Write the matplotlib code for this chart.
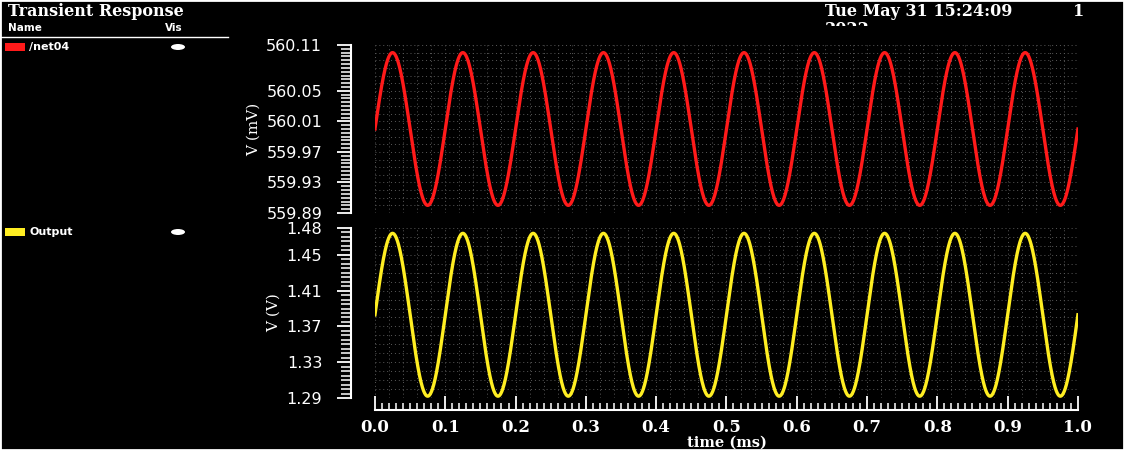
import numpy as np
import matplotlib
matplotlib.use("Agg")
import matplotlib.pyplot as plt
from matplotlib.ticker import MultipleLocator, FixedLocator
from matplotlib.patches import Rectangle, Ellipse

# signal parameters
freq_khz = 10.0
net04_dc_mv = 560.0
net04_amp_mv = 0.10
output_dc_v = 1.383
output_amp_v = 0.091

net04_ticks = [560.11, 560.05, 560.01, 559.97, 559.93, 559.89]
output_ticks = [1.48, 1.45, 1.41, 1.37, 1.33, 1.29]
x_ticks = [0.0, 0.1, 0.2, 0.3, 0.4, 0.5, 0.6, 0.7, 0.8, 0.9, 1.0]

signals = ["/net04", "Output"]
colors = ["#ff1a1a", "#ffee22"]

t = np.linspace(0, 1.0, 2001)
net04 = net04_dc_mv + net04_amp_mv * np.sin(2 * np.pi * freq_khz * t)
output = output_dc_v + output_amp_v * np.sin(2 * np.pi * freq_khz * t)

fig = plt.figure(figsize=(11.24, 4.5), dpi=100, facecolor="black")
grid_style = dict(color="#5a5a5a", linestyle=(0, (1, 3)), linewidth=0.7, zorder=0)

def style_axes(ax, ticks, ylabel, minor):
    ax.set_facecolor("black")
    for s in ["top", "right", "bottom"]:
        ax.spines[s].set_visible(False)
    ax.spines["left"].set_position(("outward", 17))
    ax.spines["left"].set_color("white")
    ax.spines["left"].set_linewidth(1.5)
    ax.set_ylim(min(ticks), max(ticks))
    ax.yaxis.set_major_locator(FixedLocator(ticks))
    ax.yaxis.set_minor_locator(MultipleLocator(minor))
    ax.set_yticklabels(["%.2f" % v for v in ticks])
    ax.tick_params(axis="y", which="major", colors="white", length=10, width=1.3,
                   labelsize=11.5, pad=11)
    ax.tick_params(axis="y", which="minor", colors="white", length=7, width=1.1)
    ax.set_ylabel(ylabel, color="white", family="DejaVu Serif", fontsize=11, labelpad=4)
    ax.set_xlim(0, 1.0)
    ax.tick_params(axis="x", which="both", bottom=False, labelbottom=False)
    # dotted background grid
    for v in np.arange(0, 1.0001, 0.02):
        ax.axvline(v, **grid_style)
    for v in np.arange(min(ticks), max(ticks) + 1e-9, minor * 2):
        ax.axhline(v, **grid_style)

ax1 = fig.add_axes([0.3336, 0.5267, 0.6254, 0.3733])
style_axes(ax1, net04_ticks, "V (mV)", 0.005)
ax1.plot(t, net04, color=colors[0], lw=2.4)

ax2 = fig.add_axes([0.3336, 0.1156, 0.6254, 0.3778])
style_axes(ax2, output_ticks, "V (V)", 0.005)
ax2.plot(t, output, color=colors[1], lw=2.4)
ax2.spines["bottom"].set_visible(True)
ax2.spines["bottom"].set_position(("outward", 9))
ax2.spines["bottom"].set_color("white")
ax2.spines["bottom"].set_linewidth(1.5)
ax2.xaxis.set_major_locator(FixedLocator(x_ticks))
ax2.xaxis.set_minor_locator(MultipleLocator(0.01))
ax2.set_xticklabels(["%.1f" % v for v in x_ticks])
ax2.tick_params(axis="x", which="major", bottom=True, labelbottom=True, direction="in",
                colors="white", length=10, width=1.3, labelsize=12, pad=6)
ax2.tick_params(axis="x", which="minor", bottom=True, direction="in", colors="white",
                length=5, width=1.1)
for lab in ax2.get_xticklabels():
    lab.set_fontweight("bold")
    lab.set_family("DejaVu Serif")
ax2.set_xlabel("time (ms)", color="white", family="DejaVu Serif", fontweight="bold",
               fontsize=10.5, labelpad=0)

# left browser panel
fig.text(8 / 1124, 1 - 11 / 450, "Transient Response", color="white", family="DejaVu Serif",
         fontsize=11.5, fontweight="bold", va="center")
fig.text(8 / 1124, 1 - 28 / 450, "Name", color="white", family="DejaVu Sans",
         fontsize=7.5, fontweight="bold", va="center")
fig.text(165 / 1124, 1 - 28 / 450, "Vis", color="white", family="DejaVu Sans",
         fontsize=7.5, fontweight="bold", va="center")
fig.add_artist(plt.Line2D([0, 228 / 1124], [1 - 37 / 450] * 2, color="white", lw=1))

for name, col, ypx in zip(signals, colors, [47, 232]):
    fig.add_artist(Rectangle((5 / 1124, 1 - (ypx + 4) / 450), 20 / 1124, 8 / 450,
                             facecolor=col, edgecolor="none"))
    fig.text(29 / 1124, 1 - ypx / 450, name, color="white", family="DejaVu Sans",
             fontsize=8, fontweight="bold", va="center")
    fig.add_artist(Ellipse((178 / 1124, 1 - ypx / 450), 14 / 1124, 6 / 450,
                           facecolor="white", edgecolor="none"))

# header on the right, date wraps and second line is clipped
fig.text(825 / 1124, 1 - 11 / 450, "Tue May 31 15:24:09", color="white",
         family="DejaVu Serif", fontsize=11.5, fontweight="bold", va="center")
fig.text(825 / 1124, 1 - 30 / 450, "2022", color="white", family="DejaVu Serif",
         fontsize=11.5, fontweight="bold", va="center", zorder=1)
fig.add_artist(Rectangle((820 / 1124, 1 - 42 / 450), 120 / 1124, 16 / 450,
                         facecolor="black", edgecolor="none", zorder=5))
fig.text(1073 / 1124, 1 - 11 / 450, "1", color="white", family="DejaVu Serif",
         fontsize=11.5, fontweight="bold", va="center")

fig.add_artist(Rectangle((0, 0), 1, 1, facecolor="none", edgecolor="white", lw=2,
                         transform=fig.transFigure, zorder=10))

fig.savefig("out.png", dpi=100, facecolor="black")
